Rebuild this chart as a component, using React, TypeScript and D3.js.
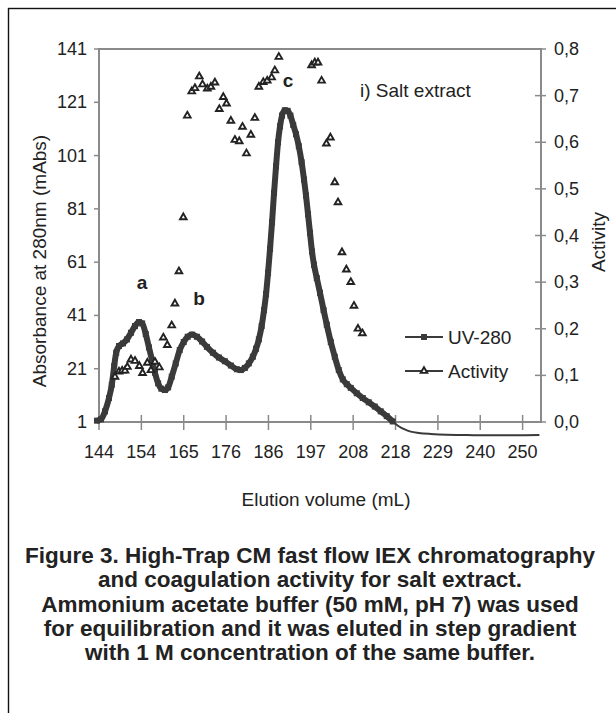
import React from 'react';
import * as d3 from 'd3';

// UV-280 trace (mL, mAbs)
const uvVolume = [
  143.5, 144.5, 145.5, 146.5, 147.2, 147.8, 148.3, 149.0, 150.0, 151.0, 152.0, 153.0, 154.0, 154.8,
  155.7, 156.5, 157.3, 158.0, 158.8, 159.6, 160.5, 161.3, 162.2, 163.2, 164.2, 165.2, 166.2, 167.3,
  168.5, 169.8, 171.0, 172.5, 174.0, 175.5, 177.0, 178.5, 179.5, 180.5, 181.5, 182.5, 183.3, 184.0,
  184.7, 185.3, 185.8, 186.3, 186.8, 187.3, 187.8, 188.3, 188.8, 189.3, 189.8, 190.5, 191.2, 191.9,
  192.6, 193.3, 194.0, 194.7, 195.3, 195.8, 196.3, 196.8, 197.3, 197.8, 198.5, 199.3, 200.2, 201.0,
  202.0, 203.0, 204.0, 205.0, 206.0, 207.0, 208.5, 210.0, 211.5, 213.0, 214.5, 216.0, 217.5,
  219.0, 220.5, 222.0, 224.0, 227.0, 231.0, 236.0, 242.0, 248.0, 254.2
];
const uvAbs = [
  1.5, 2, 5, 10, 15, 22, 27, 29.5, 30.5, 32, 34.5, 37, 38.5, 38,
  34, 29, 24, 19.5, 15.5, 13.5, 13, 14, 18, 23, 28, 31, 33, 33.8,
  33, 31.2, 29.2, 27, 25.2, 23.8, 22.2, 20.8, 20.5, 21.3, 23, 25.5, 28.5, 32,
  37, 43, 49, 57, 66, 76, 87, 97, 106, 112, 116, 118, 117.8, 116,
  112.5, 109, 104.5, 98.5, 92, 86, 79, 72, 65, 60, 55, 49.5, 43, 37.5,
  31, 25.5, 20.5, 17, 15.2, 13.8, 11.8, 10, 8.4, 6.8, 5, 3.2, 1.2,
  -0.6, -1.8, -2.6, -3.1, -3.5, -3.8, -3.9, -4, -4, -3.9
];
// markers stop where the trace meets the axis
const uvMarkerEnd = 217.5;

// coagulation activity per fraction
const activityVolume = [
  148.0, 149.0, 149.8, 150.5, 151.1, 152.0, 153.0, 154.1, 154.9, 156.1, 157.0, 158.0, 159.1, 160.1,
  161.1, 162.2, 163.0, 164.0, 165.1, 166.1, 167.2, 168.0, 169.1, 169.9, 171.1, 172.0, 173.0, 174.1,
  175.1, 175.9, 177.0, 178.0, 179.1, 179.9, 180.9, 182.0, 183.0, 184.0, 185.1, 186.1, 187.2, 188.0,
  189.0, 197.2, 198.0, 198.8, 199.7, 200.9, 201.9, 203.0, 203.8, 204.8, 205.9, 207.0, 207.8, 208.8,
  209.9
];
const activityValue = [
  0.097, 0.108, 0.11, 0.11, 0.118, 0.134, 0.131, 0.12, 0.105, 0.127, 0.111, 0.129, 0.117, 0.181,
  0.165, 0.207, 0.254, 0.323, 0.439, 0.657, 0.709, 0.716, 0.741, 0.724, 0.715, 0.719, 0.728, 0.671,
  0.697, 0.683, 0.646, 0.605, 0.602, 0.633, 0.576, 0.616, 0.652, 0.719, 0.729, 0.732, 0.739, 0.754,
  0.783, 0.765, 0.771, 0.771, 0.732, 0.597, 0.61, 0.514, 0.471, 0.364, 0.327, 0.3, 0.249, 0.2,
  0.19
];

const xTickLabels = [144, 154, 165, 176, 186, 197, 208, 218, 229, 240, 250];
const xTickStep = 10.6;
const absTicks = [1, 21, 41, 61, 81, 101, 121, 141];
const activityTicks = [0, 0.1, 0.2, 0.3, 0.4, 0.5, 0.6, 0.7, 0.8];

const captionLines = [
  'Figure 3. High-Trap CM fast flow IEX chromatography',
  'and coagulation activity for salt extract.',
  'Ammonium acetate buffer (50 mM, pH 7) was used',
  'for equilibration and it was eluted in step gradient',
  'with 1 M concentration of the same buffer.'
];

const FONT = '"Liberation Sans", Arial, sans-serif';
const INK = '#3a3a3a';
const AXIS = '#8a8a8a';

export default function App() {
  const plot = { left: 99, right: 541, top: 49, bottom: 422 };

  const x = d3.scaleLinear().domain([144, 254.6]).range([plot.left, plot.right]);
  const yAbs = d3.scaleLinear().domain([1, 141]).range([plot.bottom, plot.top]);
  const yAct = d3.scaleLinear().domain([0, 0.8]).range([plot.bottom, plot.top]);

  const uv = uvVolume.map((v, i) => ({ v, a: uvAbs[i] }));
  const uvHead = uv.filter(d => d.v <= uvMarkerEnd);
  const uvTail = uv.filter(d => d.v >= uvMarkerEnd);

  const line = d3.line<{ v: number; a: number }>()
    .x(d => x(d.v))
    .y(d => yAbs(d.a))
    .curve(d3.curveMonotoneX);

  const tri = d3.symbol(d3.symbolTriangle, 19)();
  const sq = 6;

  const xTicks = xTickLabels.map((label, i) => ({ label, pos: x(144 + i * xTickStep) }));

  return (
    <svg
      width={616}
      height={713}
      style={{ position: 'fixed', left: 0, top: 0, background: '#fff' }}
      fontFamily={FONT}
    >
      <rect x={0} y={0} width={616} height={713} fill="#fff" />
      {/* figure frame, runs past the right and bottom edges */}
      <rect x={8.5} y={8.5} width={700} height={800} fill="none" stroke="#111" strokeWidth={1.4} />

      {/* plot box */}
      <rect
        x={plot.left}
        y={plot.top}
        width={plot.right - plot.left}
        height={plot.bottom - plot.top}
        fill="none"
        stroke={AXIS}
        strokeWidth={2}
      />

      {/* left axis */}
      {absTicks.map(t => (
        <g key={'a' + t}>
          <line x1={plot.left - 5} x2={plot.left} y1={yAbs(t)} y2={yAbs(t)} stroke={AXIS} strokeWidth={1.5} />
          <text x={plot.left - 12} y={yAbs(t) + 6} fontSize={18} textAnchor="end" fill="#222">
            {t}
          </text>
        </g>
      ))}

      {/* right axis */}
      {activityTicks.map(t => (
        <g key={'r' + t}>
          <line x1={plot.right - 6} x2={plot.right + 5} y1={yAct(t)} y2={yAct(t)} stroke={AXIS} strokeWidth={1.5} />
          <text x={plot.right + 13} y={yAct(t) + 6} fontSize={18} fill="#222">
            {t.toFixed(1).replace('.', ',')}
          </text>
        </g>
      ))}

      {/* bottom axis */}
      {xTicks.map(t => (
        <g key={'x' + t.label}>
          <line x1={t.pos} x2={t.pos} y1={plot.bottom - 7} y2={plot.bottom + 8} stroke={AXIS} strokeWidth={1.5} />
          <text x={t.pos} y={458} fontSize={18} textAnchor="middle" fill="#222">
            {t.label}
          </text>
        </g>
      ))}

      {/* axis titles */}
      <text x={326} y={506} fontSize={19} textAnchor="middle" fill="#222">
        Elution volume (mL)
      </text>
      <text transform="translate(46,261) rotate(-90)" fontSize={19} textAnchor="middle" fill="#222">
        Absorbance at 280nm (mAbs)
      </text>
      <text transform="translate(605,242) rotate(-90)" fontSize={19} textAnchor="middle" fill="#222">
        Activity
      </text>

      {/* UV trace */}
      <path d={line(uvTail) || ''} fill="none" stroke={INK} strokeWidth={2} />
      <path d={line(uvHead) || ''} fill="none" stroke={INK} strokeWidth={6} strokeLinejoin="round" />
      {uvHead.map((d, i) => (
        <rect key={'u' + i} x={x(d.v) - sq / 2} y={yAbs(d.a) - sq / 2} width={sq} height={sq} fill={INK} />
      ))}

      {/* activity markers */}
      {activityVolume.map((v, i) => (
        <path
          key={'t' + i}
          d={tri || ''}
          transform={`translate(${x(v)},${yAct(activityValue[i])})`}
          fill="#fff"
          stroke="#222"
          strokeWidth={1.9}
        />
      ))}

      {/* peak labels */}
      <text x={142} y={289} fontSize={19} fontWeight="bold" textAnchor="middle" fill="#222">a</text>
      <text x={199} y={305} fontSize={19} fontWeight="bold" textAnchor="middle" fill="#222">b</text>
      <text x={288} y={87} fontSize={19} fontWeight="bold" textAnchor="middle" fill="#222">c</text>
      <text x={360} y={97} fontSize={19} fill="#222">i) Salt extract</text>

      {/* legend */}
      <g>
        <line x1={405} x2={443} y1={337} y2={337} stroke={INK} strokeWidth={2} />
        <rect x={424 - sq / 2} y={337 - sq / 2} width={sq} height={sq} fill={INK} />
        <text x={448} y={344} fontSize={19} fill="#222">UV-280</text>
        <line x1={405} x2={443} y1={371} y2={371} stroke={INK} strokeWidth={2} />
        <path d={tri || ''} transform="translate(424,371)" fill="#fff" stroke="#222" strokeWidth={1.9} />
        <text x={448} y={378} fontSize={19} fill="#222">Activity</text>
      </g>

      {/* caption */}
      {captionLines.map((l, i) => (
        <text
          key={'c' + i}
          x={310}
          y={563 + i * 24.3}
          fontSize={22.5}
          fontWeight="bold"
          textAnchor="middle"
          fill="#222"
        >
          {l}
        </text>
      ))}
    </svg>
  );
}
